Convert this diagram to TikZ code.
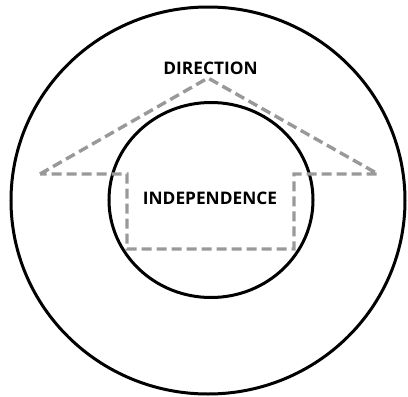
\documentclass[tikz,border=0pt]{standalone}
\usepackage{fontspec}
\setmainfont{Open Sans}
\begin{document}
\begin{tikzpicture}[x=1pt,y=-1pt,
  ring/.style={draw=black,line width=3pt},
  dashline/.style={draw=gray!80,line width=3.4pt,dash pattern=on 10pt off 5pt,line join=miter},
  lbl/.style={font=\fontsize{17.3}{19}\selectfont\bfseries,text=black,inner sep=0pt}]
\useasboundingbox (0,0) rectangle (408,397);
\draw[ring] (208,200.5) ellipse [x radius=197,y radius=193.5];
\draw[ring] (211,200) ellipse [x radius=102,y radius=97.5];
\coordinate (L) at (40,174);
\coordinate (A) at (208,78);
\coordinate (R) at (378,174);
\coordinate (RB) at (294,174);
\coordinate (RBB) at (294,249);
\coordinate (LBB) at (127,249);
\coordinate (LB) at (127,174);
\draw[dashline] (L) -- (A) -- (R) -- (RB) -- (RBB) -- (LBB) -- (LB) -- cycle;
\node[lbl] (dir) at (210.5,68.5) {DIRECTION};
\node[lbl] (ind) at (210,198.5) {INDEPENDENCE};
\end{tikzpicture}
\end{document}
